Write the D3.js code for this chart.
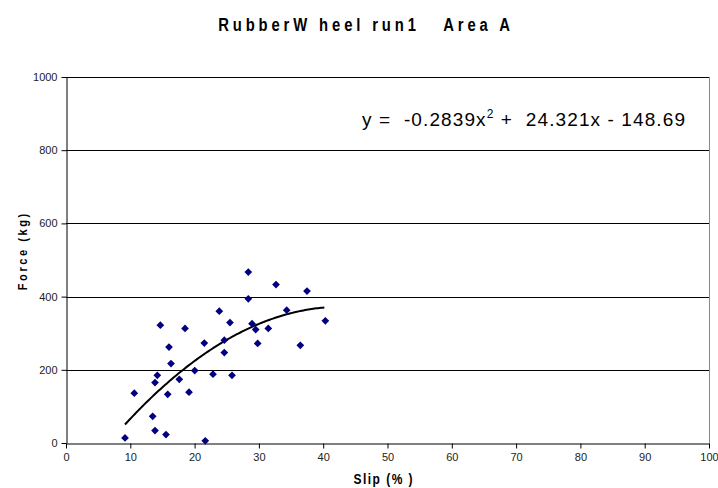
<!DOCTYPE html>
<html><head><meta charset="utf-8">
<script src="https://cdn.jsdelivr.net/npm/d3@7"></script>
<style>body{margin:0;background:#fff}svg{display:block}</style>
</head><body>
<script>
const slip = [9.18,10.62,13.48,13.84,13.84,14.2,14.67,15.55,15.82,16.02,16.33,17.62,18.51,19.13,20.02,21.51,21.66,22.86,23.84,24.62,24.62,25.5,25.82,28.35,28.35,28.93,29.5,29.81,31.46,32.66,34.32,36.44,37.48,40.33];
const force = [14,136,73,34,165,185,322,23,133,262,217,174,313,139,198,273,6,188,360,247,281,329,185,467,394,326,310,272,313,433,363,267,415,334];
const xTicks = [0,10,20,30,40,50,60,70,80,90,100];
const yTicks = [0,200,400,600,800,1000];
const coef = [-0.2839, 24.321, -148.69];
const title = "RubberW heel run1   Area A";
const xTitle = "Slip (% )";
const yTitle = "Force (kg)";

const W = 718, H = 488;
const svg = d3.select("body").append("svg").attr("width", W).attr("height", H);
const x = d3.scaleLinear().domain([0,100]).range([66,709]);
const y = d3.scaleLinear().domain([0,1000]).range([443,77]);

// gridlines
svg.append("g").selectAll("line").data(yTicks.filter(d=>d>0)).join("line")
  .attr("x1", x(0)).attr("x2", x(100))
  .attr("y1", d=>Math.round(y(d))+0.5).attr("y2", d=>Math.round(y(d))+0.5)
  .attr("stroke", "#000").attr("stroke-width", 1);
// right border
svg.append("line").attr("x1", Math.round(x(100))+0.5).attr("x2", Math.round(x(100))+0.5)
  .attr("y1", y(1000)).attr("y2", y(0)).attr("stroke", "#888");

const font = "'Liberation Sans', Arial, sans-serif";
const xAxis = svg.append("g").attr("transform", `translate(0,${Math.round(y(0))+0.5})`)
  .call(d3.axisBottom(x).tickValues(xTicks).tickFormat(d3.format("d")).tickSize(5).tickSizeOuter(0).tickPadding(5));
const yAxis = svg.append("g").attr("transform", `translate(${Math.round(x(0))+0.5},0)`)
  .call(d3.axisLeft(y).tickValues(yTicks).tickFormat(d3.format("d")).tickSize(5).tickSizeOuter(0).tickPadding(4));
[xAxis, yAxis].forEach(a => {
  a.selectAll("path,line").attr("stroke", "#000");
  a.selectAll("text").attr("font-family", font).attr("font-size", 11).attr("fill", "#222");
});

// trendline
const xs = d3.range(d3.min(slip), d3.max(slip)+0.001, 0.25);
const f = v => coef[0]*v*v + coef[1]*v + coef[2];
svg.append("path").datum(xs)
  .attr("d", d3.line().x(d=>x(d)).y(d=>y(f(d))))
  .attr("fill", "none").attr("stroke", "#000").attr("stroke-width", 2);

// points
svg.append("g").selectAll("path").data(slip.map((s,i)=>[s, force[i]])).join("path")
  .attr("transform", d=>`translate(${x(d[0])},${y(d[1])}) rotate(45)`)
  .attr("d", d3.symbol().type(d3.symbolSquare).size(30))
  .attr("fill", "#000080");

// title (condensed look via horizontal scale)
svg.append("g").attr("transform", "translate(364,31) scale(0.78,1)")
  .append("text").attr("x", 0).attr("y", 0).attr("text-anchor", "middle")
  .attr("font-family", font).attr("font-weight", "bold").attr("font-size", 19)
  .attr("textLength", 374).attr("lengthAdjust", "spacing")
  .style("white-space", "pre").text(title);

// axis titles
svg.append("g").attr("transform", "translate(383,484) scale(0.8,1)")
  .append("text").attr("text-anchor", "middle")
  .attr("font-family", font).attr("font-weight", "bold").attr("font-size", 15)
  .attr("textLength", 74).attr("lengthAdjust", "spacing")
  .style("white-space", "pre").text(xTitle);
svg.append("g").attr("transform", "translate(27,252) rotate(-90) scale(0.85,1)")
  .append("text").attr("text-anchor", "middle")
  .attr("font-family", font).attr("font-weight", "bold").attr("font-size", 13)
  .attr("textLength", 90).attr("lengthAdjust", "spacing")
  .style("white-space", "pre").text(yTitle);

// equation
const eq = svg.append("text").attr("x", 362).attr("y", 126)
  .attr("font-family", font).attr("font-size", 19)
  .attr("textLength", 323).attr("lengthAdjust", "spacing")
  .style("white-space", "pre");
eq.append("tspan").text("y =  -0.2839x");
eq.append("tspan").attr("dy", -8).attr("font-size", 12).text("2");
eq.append("tspan").attr("dy", 8).text(" +  24.321x - 148.69");
</script>
</body></html>
